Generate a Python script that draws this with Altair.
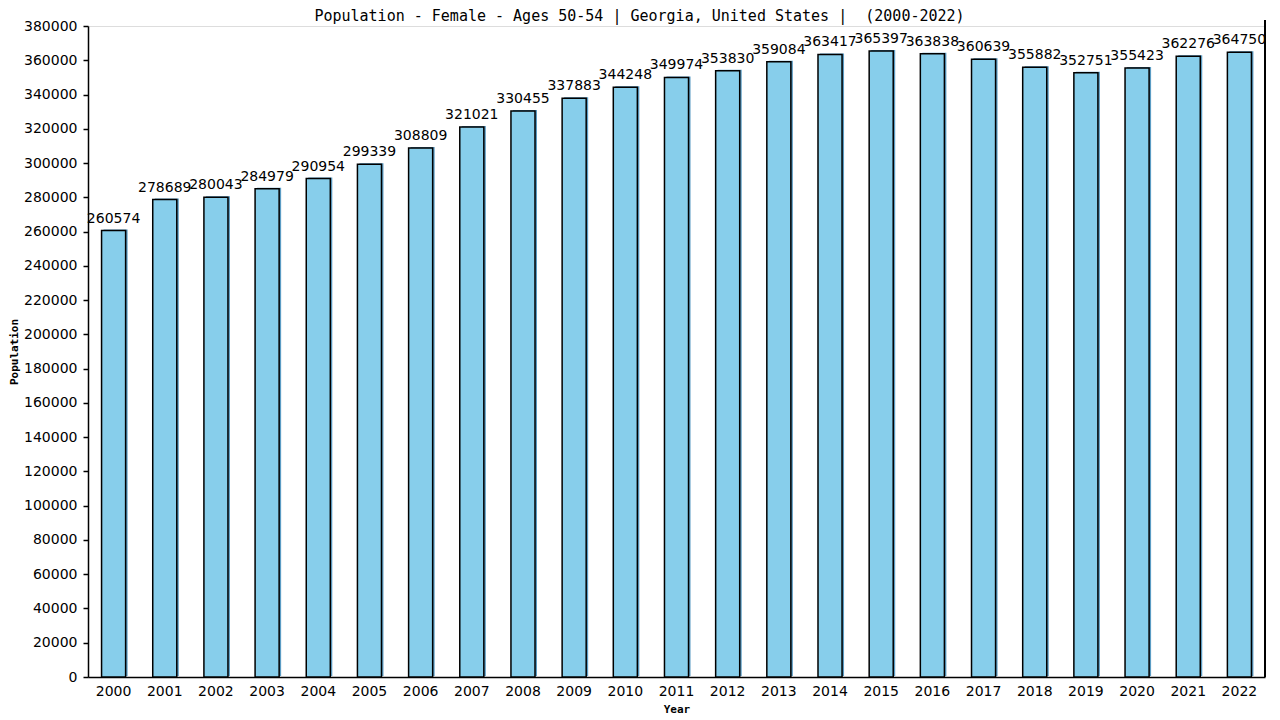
import altair as alt
import pandas as pd

years = [str(y) for y in range(2000, 2023)]
values = [260574, 278689, 280043, 284979, 290954, 299339, 308809, 321021, 330455,
          337883, 344248, 349974, 353830, 359084, 363417, 365397, 363838, 360639,
          355882, 352751, 355423, 362276, 364750]

df = pd.DataFrame({"Year": years, "Population": values})

W, H = 1177, 651

xs = alt.X("Year:N", sort=years,
           scale=alt.Scale(paddingInner=0.53, paddingOuter=0.265),
           axis=alt.Axis(title="Year", ticks=False, labelAngle=0, labelPadding=7,
                         labelFont="DejaVu Sans", labelFontSize=14, labelColor="black",
                         titleFont="DejaVu Sans Mono", titleFontSize=11, titleFontWeight="bold",
                         titlePadding=5, domainColor="black", domainWidth=1.5))
ys = alt.Y("Population:Q",
           scale=alt.Scale(domain=[0, 380000], nice=False),
           axis=alt.Axis(title="Population", values=list(range(0, 380001, 20000)),
                         grid=False, tickSize=5, tickColor="black", tickWidth=1.5,
                         labelPadding=6, labelFont="DejaVu Sans", labelFontSize=14,
                         labelColor="black", format="d",
                         titleFont="DejaVu Sans Mono", titleFontSize=11, titleFontWeight="bold",
                         titleX=-69, domainColor="black", domainWidth=1.5))

base = alt.Chart(df)

shadow = base.mark_bar(color="#5b9cc4", xOffset=2, yOffset=-1).encode(x=xs, y=ys)
bars = base.mark_bar(color="#87CEEB", stroke="black", strokeWidth=1.5).encode(x=xs, y=ys)
labels = base.mark_text(baseline="bottom", dy=-5, font="DejaVu Sans", fontSize=14,
                        color="black").encode(x=xs, y=ys, text=alt.Text("Population:Q", format="d"))
right_line = base.mark_rule(color="black", strokeWidth=1.5).encode(
    x=alt.value(W), y=alt.value(-6), y2=alt.value(H))

chart = alt.layer(shadow, bars, labels, right_line).properties(
    width=W, height=H,
    title=alt.TitleParams("Population - Female - Ages 50-54 | Georgia, United States |\u00a0 (2000-2022)",
                          font="DejaVu Sans Mono", fontSize=15, fontWeight="normal",
                          color="black", anchor="middle", dx=-37, offset=-5),
    autosize=alt.AutoSizeParams(type="none"),
    padding={"left": 80, "top": 18, "right": 7, "bottom": 42},
).configure_view(stroke=None).configure(background="white")

chart.save("out.html", embed_options={"renderer": "svg", "actions": False})
